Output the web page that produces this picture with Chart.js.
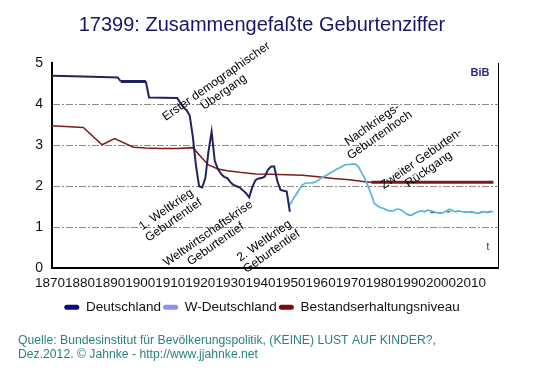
<!DOCTYPE html>
<html>
<head>
<meta charset="utf-8">
<script src="https://cdn.jsdelivr.net/npm/chart.js@4.4.1/dist/chart.umd.min.js"></script>
<style>
  html, body { margin: 0; padding: 0; background: #fff; }
  #wrap { width: 553px; height: 376px; }
</style>
</head>
<body>
<div id="wrap"><canvas id="chart" width="553" height="376"></canvas></div>
<script>
const FONT = '"Liberation Sans", Arial, sans-serif';

// Deutschland (Reich), 1870-1946
const deYears = [1870, 1880, 1891, 1892, 1900, 1901, 1910, 1911, 1912, 1913, 1914, 1915, 1916, 1917, 1918,
  1919, 1920, 1921, 1922, 1923, 1924, 1925, 1926, 1927, 1928, 1929, 1930, 1931, 1932, 1933, 1934, 1935,
  1936, 1937, 1938, 1939, 1940, 1941, 1942, 1943, 1944, 1945, 1946];
const deValues = [4.69, 4.67, 4.65, 4.55, 4.55, 4.16, 4.15, 4.03, 3.92, 3.85, 3.72, 3.20, 2.50, 2.00, 1.97,
  2.20, 2.85, 3.33, 2.62, 2.42, 2.30, 2.23, 2.20, 2.10, 2.03, 2.00, 1.97, 1.90, 1.83, 1.73, 1.98, 2.15,
  2.19, 2.20, 2.24, 2.40, 2.48, 2.48, 2.12, 1.91, 1.89, 1.87, 1.38];

// Deutschland gesamt ab 1991 (duenn gestrichelt)
const de2Years = [1991, 1994, 1997, 2000, 2003, 2006, 2009, 2011];
const de2Values = [1.36, 1.35, 1.38, 1.39, 1.37, 1.35, 1.37, 1.38];

// W-Deutschland, 1946-2011
const wdYears = [1946, 1947, 1948, 1949, 1950, 1951, 1952, 1953, 1954, 1955, 1956, 1957, 1958, 1959, 1960,
  1961, 1962, 1963, 1964, 1965, 1966, 1967, 1968, 1969, 1970, 1971, 1972, 1973, 1974, 1975, 1976, 1977,
  1978, 1979, 1980, 1981, 1982, 1983, 1984, 1985, 1986, 1987, 1988, 1989, 1990, 1991, 1992, 1993, 1994,
  1995, 1996, 1997, 1998, 1999, 2000, 2001, 2002, 2003, 2004, 2005, 2006, 2007, 2008, 2009, 2010, 2011];
const wdValues = [1.55, 1.68, 1.80, 1.92, 2.03, 2.08, 2.08, 2.08, 2.10, 2.14, 2.20, 2.24, 2.28, 2.33, 2.37,
  2.42, 2.45, 2.50, 2.53, 2.53, 2.54, 2.54, 2.46, 2.32, 2.18, 2.00, 1.80, 1.58, 1.52, 1.48, 1.46, 1.42,
  1.40, 1.40, 1.44, 1.44, 1.40, 1.34, 1.30, 1.30, 1.35, 1.38, 1.40, 1.38, 1.42, 1.40, 1.38, 1.36, 1.34,
  1.36, 1.40, 1.44, 1.41, 1.38, 1.40, 1.38, 1.38, 1.37, 1.38, 1.36, 1.34, 1.37, 1.38, 1.36, 1.39, 1.38];

// Bestandserhaltungsniveau
const bestYears = [1870, 1880, 1886, 1890, 1896, 1900, 1905, 1910, 1915, 1918, 1920, 1923, 1926, 1930,
  1935, 1940, 1945, 1950, 1955, 1960, 1965, 1970, 1972, 1980, 1990, 2000, 2011];
const bestValues = [3.47, 3.43, 3.01, 3.16, 2.95, 2.93, 2.92, 2.92, 2.94, 2.68, 2.52, 2.42, 2.38, 2.34,
  2.30, 2.29, 2.28, 2.27, 2.23, 2.19, 2.16, 2.11, 2.10, 2.10, 2.10, 2.10, 2.10];

const xLabels = [1870, 1880, 1890, 1900, 1910, 1920, 1930, 1940, 1950, 1960, 1970, 1980, 1990, 2000, 2010];
const yTicks = [0, 1, 2, 3, 4, 5];

const notes = [
  { x: 1923.7, y: 4.42, lines: ['Erster demographischer', 'Übergang'] },
  { x: 1907.7, y: 1.30, lines: ['1. Weltkrieg', 'Geburtentief'] },
  { x: 1921.1, y: 0.72, lines: ['Weltwirtschaftskrise', 'Geburtentief'] },
  { x: 1939.0, y: 0.54, lines: ['2. Weltkrieg', 'Geburtentief'] },
  { x: 1973.5, y: 3.37, lines: ['Nachkriegs-', 'Geburtenhoch'] },
  { x: 1989.2, y: 2.54, lines: ['Zweiter Geburten-', 'Rückgang'] }
];

const legendColors = ['#0b0b78', '#8f8ff0', '#7c0b0b'];

const pts = (xs, ys) => xs.map((x, i) => ({ x: x, y: ys[i] }));

// rotated notes, BiB logo and small "t"
const notePlugin = {
  id: 'notes',
  afterDatasetsDraw(chart) {
    const { ctx, chartArea } = chart;
    const xs = chart.scales.x, ys = chart.scales.y;
    ctx.save();
    ctx.fillStyle = '#000';
    ctx.font = '12px ' + FONT;
    ctx.textAlign = 'center';
    ctx.textBaseline = 'middle';
    notes.forEach(n => {
      ctx.save();
      ctx.translate(xs.getPixelForValue(n.x), ys.getPixelForValue(n.y));
      ctx.rotate(-35 * Math.PI / 180);
      n.lines.forEach((t, i) => ctx.fillText(t, 0, (i - (n.lines.length - 1) / 2) * 13));
      ctx.restore();
    });
    ctx.font = 'bold 11px ' + FONT;
    ctx.fillStyle = '#2b2b7a';
    ctx.fillText('BiB', chartArea.right - 18, chartArea.top + 10);
    ctx.font = '10px ' + FONT;
    ctx.fillStyle = '#333';
    ctx.fillText('t', chartArea.right - 10, chartArea.bottom - 21);
    ctx.restore();
  }
};

new Chart(document.getElementById('chart'), {
  type: 'line',
  data: {
    datasets: [
      {
        label: 'Deutschland',
        data: pts(deYears, deValues),
        borderColor: '#22225e',
        borderWidth: 2,
        segment: { borderWidth: c => (c.p0.parsed.x >= 1892 && c.p1.parsed.x <= 1900) ? 3 : 2 }
      },
      {
        label: 'W-Deutschland',
        data: pts(wdYears, wdValues),
        borderColor: '#55b4e0',
        borderWidth: 1.7
      },
      {
        label: 'Bestandserhaltungsniveau',
        data: pts(bestYears, bestValues),
        borderColor: '#7e1a1a',
        borderWidth: 1.5,
        segment: { borderWidth: c => c.p0.parsed.x >= 1972 ? 3 : 1.5 }
      },
      {
        label: 'Deutschland ab 1991',
        data: pts(de2Years, de2Values),
        borderColor: '#22225e',
        borderWidth: 1,
        borderDash: [4, 4]
      }
    ]
  },
  options: {
    responsive: false,
    animation: false,
    devicePixelRatio: 1,
    layout: { padding: { left: 18, right: 47, top: 0, bottom: 0 } },
    elements: { point: { radius: 0 }, line: { tension: 0 } },
    scales: {
      x: { type: 'linear', min: 1870, max: 2012.5, display: false },
      xt: {
        type: 'linear', position: 'bottom', min: 1870.665, max: 2018.99,
        afterBuildTicks: s => { s.ticks = xLabels.map(v => ({ value: v })); },
        afterFit: s => { s.height = 30; },
        grid: { drawOnChartArea: false, drawTicks: false },
        border: { display: true, color: '#000', width: 2 },
        ticks: {
          autoSkip: false, maxRotation: 0, padding: 7, color: '#111',
          font: { family: FONT, size: 13.5 }, callback: v => String(v)
        }
      },
      y: {
        min: 0, max: 5,
        afterBuildTicks: s => { s.ticks = yTicks.map(v => ({ value: v })); },
        afterFit: s => { s.width = 34; },
        grid: {
          drawTicks: false, lineWidth: 1,
          color: c => (c.tick && (c.tick.value === 0 || c.tick.value === 5)) ? 'rgba(0,0,0,0)' : '#8a8a8a'
        },
        border: { display: true, color: '#000', width: 2, dash: [7, 2, 2, 2] },
        ticks: { padding: 9, color: '#111', font: { family: FONT, size: 14 } }
      },
      yr: {
        position: 'right', min: 0, max: 5,
        afterFit: s => { s.width = 8; },
        grid: { drawOnChartArea: false, drawTicks: false },
        border: { display: true, color: '#000', width: 1 },
        ticks: { display: false }
      }
    },
    plugins: {
      title: {
        display: true,
        text: '17399: Zusammengefaßte Geburtenziffer',
        color: '#16166a',
        font: { family: FONT, size: 20, weight: 'normal', lineHeight: 1.2 },
        padding: { top: 13, bottom: 26 }
      },
      subtitle: {
        display: true,
        position: 'bottom',
        align: 'start',
        text: ['Quelle: Bundesinstitut für Bevölkerungspolitik, (KEINE) LUST AUF KINDER?,',
               'Dez.2012. © Jahnke - http://www.jjahnke.net'],
        color: '#2a7f7f',
        font: { family: FONT, size: 12.2, weight: 'normal', lineHeight: 1.15 },
        padding: { top: 10, bottom: 14 }
      },
      legend: {
        position: 'bottom',
        labels: {
          boxWidth: 15, boxHeight: 5, useBorderRadius: true, borderRadius: 2.5,
          padding: 2, color: '#111',
          font: { family: FONT, size: 13.5 },
          generateLabels: chart => Chart.defaults.plugins.legend.labels.generateLabels(chart)
            .filter(l => l.datasetIndex < 3)
            .map(l => Object.assign(l, {
              fillStyle: legendColors[l.datasetIndex],
              strokeStyle: legendColors[l.datasetIndex],
              lineWidth: 0
            }))
        }
      },
      tooltip: { enabled: false }
    }
  },
  plugins: [notePlugin]
});
</script>
</body>
</html>
